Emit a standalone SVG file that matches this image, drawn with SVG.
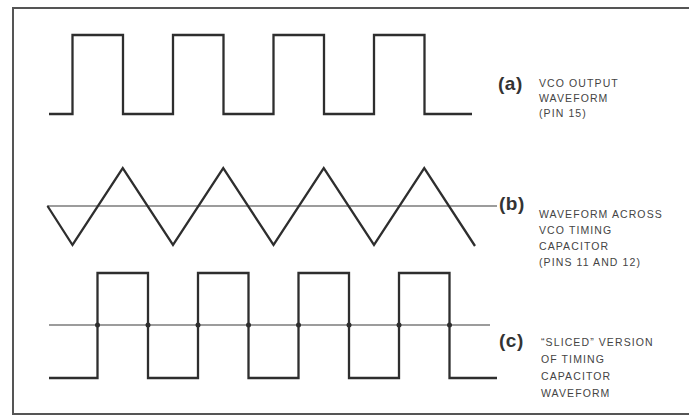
<svg xmlns="http://www.w3.org/2000/svg" width="689" height="418" viewBox="0 0 689 418">
<style>
.wave{fill:none;stroke:#2e2e2e;stroke-width:2.3;stroke-linejoin:miter}
.ref{fill:none;stroke:#3a3a3a;stroke-width:1.2}
.frame{fill:none;stroke:#555;stroke-width:2}
.lbl{font-family:"Liberation Sans",Arial,sans-serif;font-weight:bold;font-size:19px;fill:#333;letter-spacing:0.5px}
.txt{font-family:"Liberation Sans",Arial,sans-serif;font-size:10.5px;fill:#444;letter-spacing:1.1px}
.dot{fill:#2e2e2e}
</style>
<rect width="689" height="418" fill="#ffffff"/>
<g id="frame">
<path class="frame" d="M689,8 H13 V414 H689"/>
</g>
<g id="wave-a">
<path class="wave" d="M49,114 H72.5 V35 H123 V114 H173 V35 H223.5 V114 H273.5 V35 H324 V114 H374 V35 H424.5 V114 H472"/>
<text class="lbl" x="498" y="90">(a)</text>
<text class="txt" x="539" y="87">VCO OUTPUT</text>
<text class="txt" x="539" y="102">WAVEFORM</text>
<text class="txt" x="539" y="117">(PIN 15)</text>
</g>
<g id="wave-b">
<line class="ref" x1="47" y1="206" x2="497" y2="206"/>
<path class="wave" d="M47.5,206 L72.5,245 L122.75,168 L173,245 L223.25,168 L273.5,245 L323.75,168 L374,245 L424.25,168 L475,246"/>
<text class="lbl" x="499" y="210">(b)</text>
<text class="txt" x="539" y="218">WAVEFORM ACROSS</text>
<text class="txt" x="539" y="234">VCO TIMING</text>
<text class="txt" x="539" y="250">CAPACITOR</text>
<text class="txt" x="539" y="266">(PINS 11 AND 12)</text>
</g>
<g id="wave-c">
<line class="ref" x1="49" y1="325" x2="490" y2="325"/>
<path class="wave" d="M49,378 H97.5 V273 H148 V378 H198 V273 H248.5 V378 H298.5 V273 H349 V378 H399 V273 H449.5 V378 H497"/>
<g class="dot">
<circle cx="97.5" cy="325" r="2.5"/><circle cx="148" cy="325" r="2.5"/>
<circle cx="198" cy="325" r="2.5"/><circle cx="248.5" cy="325" r="2.5"/>
<circle cx="298.5" cy="325" r="2.5"/><circle cx="349" cy="325" r="2.5"/>
<circle cx="399" cy="325" r="2.5"/><circle cx="449.5" cy="325" r="2.5"/>
</g>
<text class="lbl" x="499" y="347">(c)</text>
<text class="txt" x="541" y="346">“SLICED” VERSION</text>
<text class="txt" x="541" y="363">OF TIMING</text>
<text class="txt" x="541" y="380">CAPACITOR</text>
<text class="txt" x="541" y="397">WAVEFORM</text>
</g>
</svg>
